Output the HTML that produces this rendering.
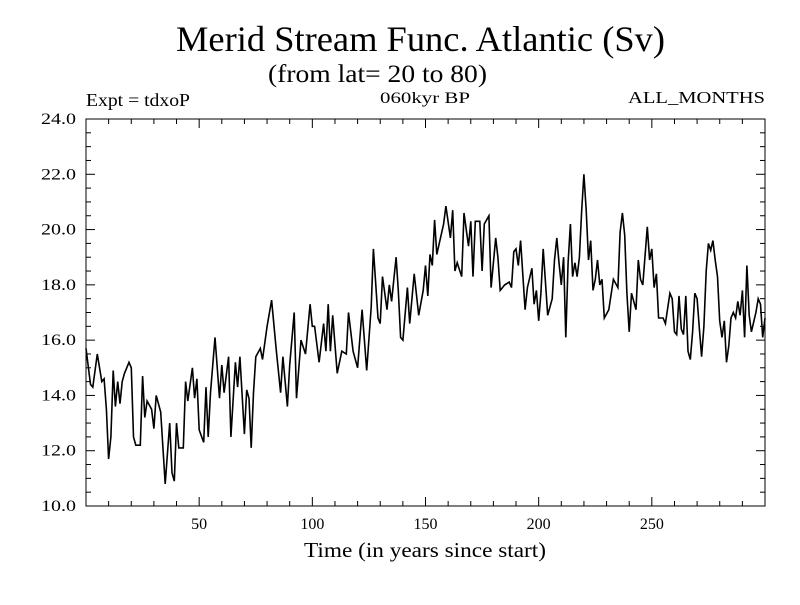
<!DOCTYPE html>
<html><head><meta charset="utf-8"><style>
body{margin:0;background:#fff;width:800px;height:600px;overflow:hidden}
svg text{font-family:"Liberation Serif",serif;fill:#000}
</style></head><body>
<svg id="chart" width="800" height="600" xmlns="http://www.w3.org/2000/svg">
<text x="176" y="51" font-size="36" textLength="489" lengthAdjust="spacingAndGlyphs">Merid Stream Func. Atlantic (Sv)</text>
<text x="268" y="82" font-size="25" textLength="219" lengthAdjust="spacingAndGlyphs">(from lat= 20 to 80)</text>
<text x="86" y="106" font-size="18" textLength="104" lengthAdjust="spacingAndGlyphs">Expt = tdxoP</text>
<text x="380" y="103" font-size="16" textLength="90" lengthAdjust="spacingAndGlyphs">060kyr BP</text>
<text x="628" y="103" font-size="17" textLength="137" lengthAdjust="spacingAndGlyphs">ALL_MONTHS</text>
<text x="304" y="557" font-size="21" textLength="242" lengthAdjust="spacingAndGlyphs">Time (in years since start)</text>
<g id="axes"></g>
<path id="series" fill="none" stroke="#000" stroke-width="1.6"/>
<rect x="86" y="119" width="679" height="387" fill="none" stroke="#000" stroke-width="1"/>
</svg>
<script>
const years=[0,2,3,5,7,8,9,10,11,12,13,14,15,16,17,19,20,21,22,24,25,26,27,29,30,31,33,35,37,38,39,40,41,43,44,45,47,48,49,50,52,53,54,55,57,59,60,61,63,64,66,67,68,70,71,72,73,74,75,77,78,80,82,84,86,87,89,90,92,93,95,97,99,100,101,103,105,106,107,108,109,111,113,115,116,118,120,122,124,126,127,129,130,131,133,134,135,137,138,139,140,142,143,145,147,149,150,151,152,153,154,155,158,159,161,162,163,164,166,167,169,170,171,172,174,175,176,178,179,181,182,183,185,187,188,189,190,191,192,194,195,197,198,199,200,201,202,204,206,207,208,209,210,211,212,213,214,215,216,217,218,219,220,221,222,223,224,225,226,227,228,229,231,233,235,236,237,238,239,240,241,243,244,245,246,248,249,250,251,252,253,255,256,258,259,260,261,262,263,264,265,266,267,268,269,270,271,272,273,274,275,276,277,278,279,280,281,282,283,284,285,286,287,288,289,290,291,292,293,294,296,297,298,299,300];
const values=[15.7,14.4,14.3,15.5,14.5,14.6,13.5,11.7,12.5,14.9,13.6,14.5,13.7,14.5,14.8,15.2,15.0,12.5,12.2,12.2,14.7,13.2,13.8,13.5,12.8,14.0,13.4,10.8,13.0,11.2,10.9,13.0,12.1,12.1,14.5,13.8,15.0,13.9,14.6,12.75,12.3,14.3,12.5,14.1,16.1,13.9,15.1,14.1,15.4,12.5,15.2,14.3,15.4,12.6,14.2,13.9,12.1,14.1,15.4,15.7,15.3,16.5,17.45,15.7,14.1,15.4,13.6,15.1,17.0,13.9,16.0,15.5,17.3,16.5,16.5,15.2,16.6,15.6,17.3,15.6,16.9,14.8,15.6,15.5,17.0,15.6,15.0,17.1,14.9,17.2,19.3,16.8,16.6,18.3,17.1,18.0,17.4,19.0,17.8,16.1,16.0,17.9,16.6,18.4,16.9,17.8,18.7,17.6,19.1,18.7,20.35,19.1,20.2,20.85,19.7,20.7,18.5,18.8,18.3,20.6,19.4,20.3,18.3,20.3,20.3,18.5,20.2,20.5,17.9,19.7,19.0,17.8,18.0,18.1,17.9,19.2,19.3,18.7,19.6,17.1,17.9,18.6,17.3,17.8,16.7,17.7,19.3,16.9,17.5,18.9,19.7,18.8,18.0,19.0,16.1,18.8,20.2,18.3,18.8,18.3,19.0,20.7,22.0,20.7,18.9,19.6,17.8,18.2,18.9,18.0,18.2,16.8,17.1,18.2,17.9,19.9,20.6,19.8,17.7,16.3,17.7,17.1,18.9,18.2,18.0,20.1,18.9,19.3,17.9,18.4,16.8,16.8,16.6,17.7,17.5,16.3,16.2,17.6,16.4,16.2,17.6,15.6,15.3,16.3,17.7,17.5,16.4,15.4,16.5,18.5,19.5,19.25,19.6,18.9,18.3,16.7,16.1,16.7,15.2,15.8,16.8,17.0,16.8,17.4,16.9,17.8,16.1,18.7,16.9,16.3,17.0,17.5,17.3,16.1,16.8];
const yTickLabels=["10.0","12.0","14.0","16.0","18.0","20.0","22.0","24.0"];
const xTickLabels=["50","100","150","200","250"];
const X0=86,X1=765,Y0=506,Y1=119,xMin=0,xMax=300,yMin=10,yMax=24;
const sx=v=>X0+(v-xMin)/(xMax-xMin)*(X1-X0);
const sy=v=>Y0-(v-yMin)/(yMax-yMin)*(Y0-Y1);
const NS="http://www.w3.org/2000/svg";
const axes=document.getElementById('axes');
function ln(x1,y1,x2,y2){const l=document.createElementNS(NS,'line');l.setAttribute('x1',x1);l.setAttribute('y1',y1);l.setAttribute('x2',x2);l.setAttribute('y2',y2);l.setAttribute('stroke','#000');l.setAttribute('stroke-width','1');


axes.appendChild(l);}
function tx(x,y,s,anchor,name,len){const t=document.createElementNS(NS,'text');t.setAttribute('x',x);t.setAttribute('y',y);t.setAttribute('font-size','16');t.setAttribute('text-anchor',anchor);if(len){t.setAttribute('textLength',len);t.setAttribute('lengthAdjust','spacingAndGlyphs');}t.textContent=s;


axes.appendChild(t);}
for(let v=yMin;v<=yMax+1e-9;v+=0.5){const y=sy(v);const major=Math.abs(v%2)<1e-9;const L=major?9:5;ln(X0,y,X0+L,y);ln(X1,y,X1-L,y);}
yTickLabels.forEach(s=>tx(41,sy(parseFloat(s))+5,s,'start','y-tick-label',35));
for(let v=10;v<xMax;v+=10){const x=sx(v);const L=(v%50===0)?9:5;ln(x,Y0,x,Y0-L);ln(x,Y1,x,Y1+L);}
xTickLabels.forEach(s=>tx(sx(parseFloat(s)),529,s,'middle','x-tick-label'));
let d='';years.forEach((yr,i)=>{d+=(i?'L':'M')+sx(yr).toFixed(1)+' '+sy(values[i]).toFixed(1);});
document.getElementById('series').setAttribute('d',d);
</script>
</body></html>
